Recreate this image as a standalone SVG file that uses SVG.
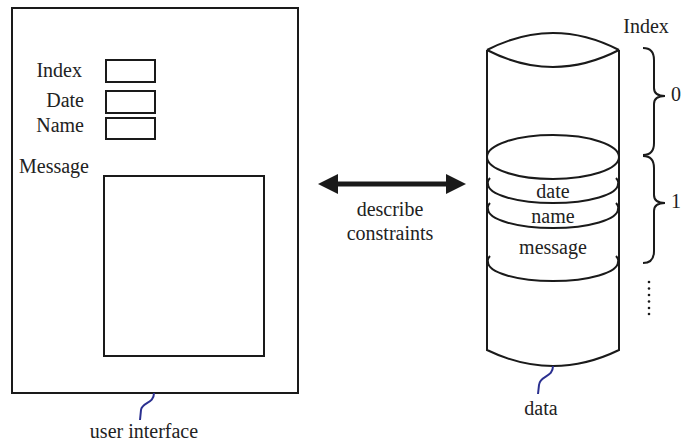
<svg xmlns="http://www.w3.org/2000/svg" width="681" height="445" viewBox="0 0 681 445">
<style>
.s{fill:none;stroke:#1a1a1a;stroke-width:2}
.t{font-family:"Liberation Serif","Times New Roman",serif;font-size:20px;fill:#222}
.b{fill:none;stroke:#2b3090;stroke-width:2}
</style>
<rect width="681" height="445" fill="#fff"/>
<g id="ui">
<rect class="s" x="12" y="8" width="286" height="385"/>
<text class="t" x="82" y="77" text-anchor="end">Index</text>
<rect class="s" x="106" y="60" width="49" height="22"/>
<text class="t" x="84" y="107" text-anchor="end">Date</text>
<rect class="s" x="106" y="91" width="49" height="22"/>
<text class="t" x="84" y="132" text-anchor="end">Name</text>
<rect class="s" x="106" y="118" width="49" height="21"/>
<text class="t" x="19" y="173">Message</text>
<rect class="s" x="104" y="176" width="160" height="180"/>
<path class="b" d="M154,393 C154,404 142,402 141,410 L140,420"/>
<text class="t" x="144" y="438" text-anchor="middle">user interface</text>
</g>
<g id="connectors">
<line x1="334" y1="184" x2="450" y2="184" stroke="#1a1a1a" stroke-width="5"/>
<polygon points="318,184 338,174 338,194" fill="#1a1a1a"/>
<polygon points="466,184 446,174 446,194" fill="#1a1a1a"/>
<text class="t" x="390" y="216" text-anchor="middle">describe</text>
<text class="t" x="390" y="240" text-anchor="middle">constraints</text>
</g>
<g id="data">
<path class="s" d="M487,50 Q553,16 619,50 M487,50 Q553,84 619,50 M487,50 L487,350 Q553,382 619,350 L619,50"/>
<ellipse class="s" cx="553" cy="157" rx="66" ry="22"/>
<path class="s" d="M490,178 Q487,181 488,184 A65,19 0 0 0 618,184 Q619,181 616,178"/>
<path class="s" d="M490,203 Q487,206 488,209 A65,19 0 0 0 618,209 Q619,206 616,203"/>
<path class="s" d="M490,256 Q487,259 488,262 A65,19 0 0 0 618,262 Q619,259 616,256"/>
<text class="t" x="553" y="198" text-anchor="middle">date</text>
<text class="t" x="553" y="223" text-anchor="middle">name</text>
<text class="t" x="553" y="254" text-anchor="middle">message</text>
<path class="b" d="M553,366 C553,378 540,375 539,385 L538,394"/>
<text class="t" x="541" y="415" text-anchor="middle">data</text>
</g>
<g id="index">
<text class="t" x="646" y="33" text-anchor="middle">Index</text>
<path class="s" d="M643,48 Q654,48 654,60 L654,88 Q654,96 665,96 Q654,96 654,104 L654,143 Q654,155 643,155" stroke-width="2.3"/>
<text class="t" x="671" y="101">0</text>
<path class="s" d="M643,156 Q654,156 654,168 L654,195 Q654,203 665,203 Q654,203 654,211 L654,251 Q654,263 643,263" stroke-width="2.3"/>
<text class="t" x="671" y="208">1</text>
<g fill="#1a1a1a">
<circle cx="649" cy="282" r="1.3"/><circle cx="649" cy="288.5" r="1.3"/><circle cx="649" cy="295" r="1.3"/><circle cx="649" cy="301.5" r="1.3"/><circle cx="649" cy="308" r="1.3"/><circle cx="649" cy="314" r="1.3"/>
</g>
</g>
</svg>
